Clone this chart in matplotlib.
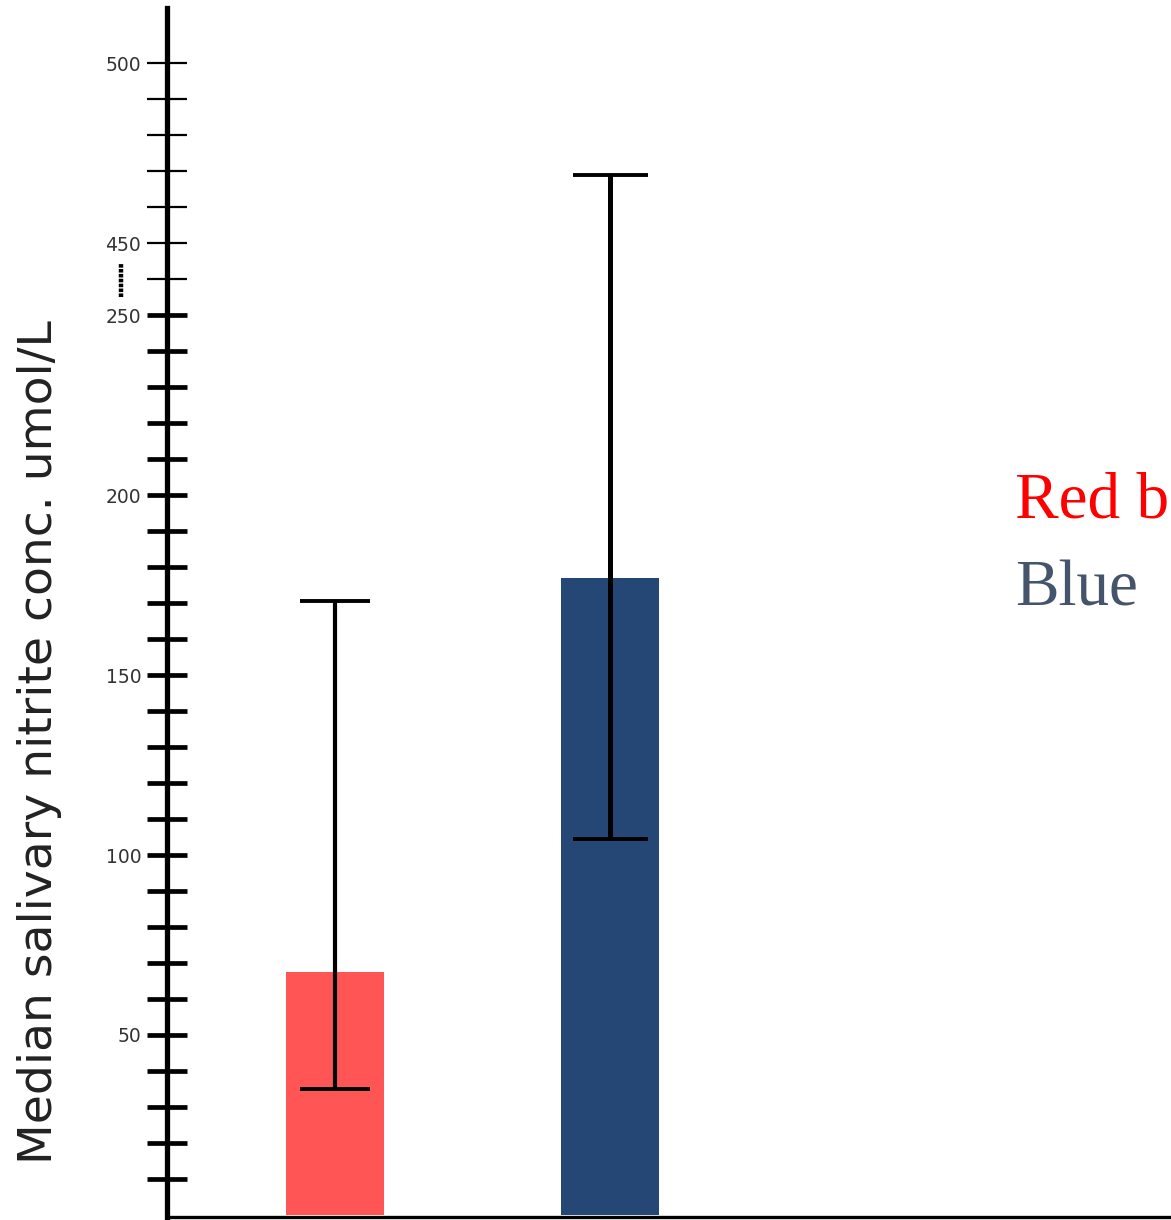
import matplotlib
matplotlib.use("Agg")
import matplotlib.pyplot as plt

# median salivary nitrite per group, with lower/upper range
groups = ["Red", "Blue"]
medians = [67.5, 177.0]
lows = [35.0, 104.5]
highs = [170.5, 469.0]
bar_colors = ["#FF5555", "#244776"]

lower_ticks = list(range(10, 260, 10))
upper_ticks = list(range(440, 510, 10))
lower_labels = {50: "50", 100: "100", 150: "150", 200: "200", 250: "250"}
upper_labels = {450: "450", 500: "500"}

BREAK_AT = 255
GAP = 180


def squash(v):
    # values above the break are shifted down so 440 sits right after 250
    return v if v <= BREAK_AT else v - GAP


fig = plt.figure(figsize=(11.71, 12.2), dpi=100)
ax = fig.add_axes([167 / 1171, 3 / 1220, 1004 / 1171, 1209 / 1220])

x = [1, 2]
ax.bar(x, [squash(m) for m in medians], width=0.353, color=bar_colors, zorder=1)

for xi, m, lo, hi, lw, cap in zip(x, medians, lows, highs, [3.0, 3.6], [25.5, 27]):
    ax.errorbar(xi, squash(m),
                yerr=[[squash(m) - squash(lo)], [squash(hi) - squash(m)]],
                fmt="none", ecolor="black", elinewidth=lw, capsize=cap,
                capthick=2.8, zorder=3)

ax.set_xlim(0.389, 4.04)
ax.set_ylim(-0.56, 335.3)

for side in ["top", "right"]:
    ax.spines[side].set_visible(False)
ax.spines["left"].set_linewidth(3.8)
ax.spines["bottom"].set_linewidth(2.4)
ax.set_xticks([])

# thick ticks below the break, thin ones above it
ax.set_yticks([squash(t) for t in lower_ticks])
ax.set_yticklabels([lower_labels.get(t, "") for t in lower_ticks])
ax.set_yticks([squash(t) for t in upper_ticks], minor=True)
ax.set_yticklabels([upper_labels.get(t, "") for t in upper_ticks], minor=True)
ax.tick_params(axis="y", which="major", direction="inout", length=29,
               width=3.4, pad=4, labelsize=13.5, labelcolor="#333333")
ax.tick_params(axis="y", which="minor", direction="inout", length=29,
               width=1.6, pad=4, labelsize=13.5, labelcolor="#333333")

# dotted mark for the axis break
ax.plot([0.222, 0.222], [255.0, 264.5], linestyle=(0, (0.8, 0.3)),
        color="black", linewidth=3.2, clip_on=False)

fig.text(40 / 1171, 1 - 742 / 1220, "Median salivary nitrite conc. umol/L",
         rotation=90, fontsize=34, color="#222222", ha="center", va="center")

fig.text(1015 / 1171, 1 - 517 / 1220, "Red b", color="#FF0000",
         fontsize=47, family="Liberation Serif", va="baseline")
fig.text(1015 / 1171, 1 - 605 / 1220, "Blue", color="#44546A",
         fontsize=47, family="Liberation Serif", va="baseline")

fig.savefig("out.png", dpi=100)
